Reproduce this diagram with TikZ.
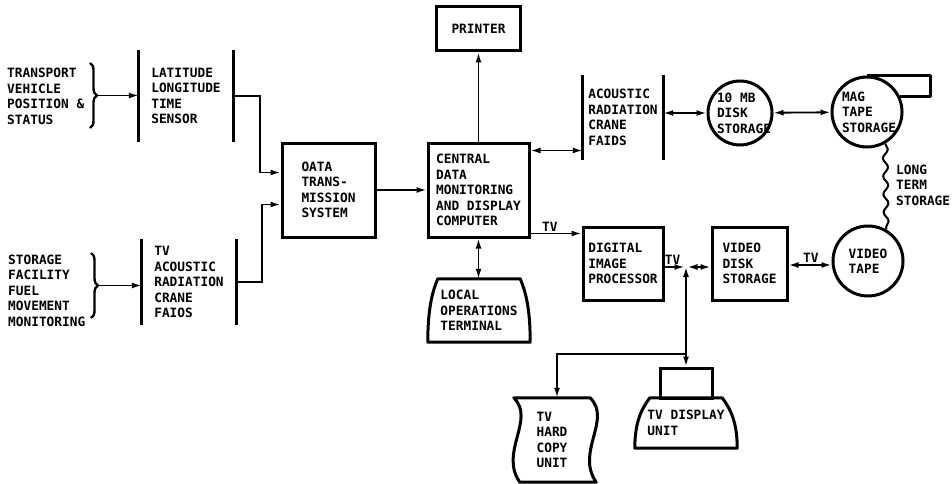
\documentclass[tikz,border=0pt]{standalone}
\usepackage{fontspec}
\newfontfamily\dmono{DejaVu Sans Mono}
\usetikzlibrary{arrows.meta,calc,decorations.pathreplacing,decorations.pathmorphing}
\begin{document}
\begin{tikzpicture}[x=1pt,y=-1pt,
  txt/.style={font=\dmono\bfseries\fontsize{12.8}{15.5}\selectfont, align=left},
  box/.style={txt, draw, line width=3pt, rectangle, inner sep=0pt},
  plain/.style={txt, rectangle, inner sep=0pt},
  ring/.style={draw, line width=3pt, circle, inner sep=0pt},
  bar/.style={line width=3pt},
  wire/.style={line width=1.8pt},
  arr/.style={wire, -{Latex[length=10pt,width=6pt]}},
  dbl/.style={wire, {Latex[length=10pt,width=6pt]}-{Latex[length=10pt,width=6pt]}},
  outline/.style={line width=3pt, line join=round},
  lbl/.style={txt, inner sep=1.5pt},
  bracestyle/.style={decorate, decoration={brace, amplitude=7pt}, line width=2.4pt}
]
\useasboundingbox (0,0) rectangle (952,484);

% left sources
\node[plain, anchor=west] (src1) at (7,96.5) {TRANSPORT\\VEHICLE\\POSITION \&\\STATUS};
\node[plain, anchor=west] (src2) at (8,290.5) {STORAGE\\FACILITY\\FUEL\\MOVEMENT\\MONITORING};

% data stores
\node[plain, minimum width=94pt, minimum height=92pt] (lat) at (186,96) {LATITUDE\\LONGITUDE\\TIME\\SENSOR};
\draw[bar] (lat.north west) -- (lat.south west);
\draw[bar] (lat.north east) -- (lat.south east);
\node[plain, minimum width=94pt, minimum height=86pt] (tvs) at (189,282) {TV\\ACOUSTIC\\RADIATION\\CRANE\\FAIOS};
\draw[bar] (tvs.north west) -- (tvs.south west);
\draw[bar] (tvs.north east) -- (tvs.south east);
\node[plain, minimum width=80pt, minimum height=85pt] (acou) at (623,117.5) {ACOUSTIC\\RADIATION\\CRANE\\FAIDS};
\draw[bar] (acou.north west) -- (acou.south west);
\draw[bar] (acou.north east) -- (acou.south east);

% boxes
\node[box, minimum width=93pt, minimum height=94pt] (oata) at (328.5,190) {OATA\\TRANS-\\MISSION\\SYSTEM};
\node[box, minimum width=101pt, minimum height=94pt] (central) at (478.5,190) {CENTRAL\\DATA\\MONITORING\\AND DISPLAY\\COMPUTER};
\node[box, minimum width=84pt, minimum height=44pt] (printer) at (478.5,29) {PRINTER};
\node[box, minimum width=80pt, minimum height=73pt] (dig) at (623,263.5) {DIGITAL\\IMAGE\\PROCESSOR};
\node[box, minimum width=75pt, minimum height=73pt] (vdisk) at (749.5,263.5) {VIDEO\\DISK\\STORAGE};

% circles
\node[ring, minimum size=64pt, label={[txt, xshift=4pt]center:10 MB\\DISK\\STORAGE}] (disk) at (740,113) {};
\node[ring, minimum size=70pt, label={[txt, xshift=2pt]center:MAG\\TAPE\\STORAGE}] (mag) at (867,112) {};
\draw[outline] (mag.north) -- ++(63,0) |- (mag.25);
\node[ring, minimum size=70pt, label={[txt]center:VIDEO\\TAPE}] (vtape) at (868,261) {};
\node[plain, anchor=west] (lts) at (896,185) {LONG\\TERM\\STORAGE};
\draw[line width=2pt, decorate, decoration={snake, segment length=18pt, amplitude=2.5pt}] (mag.300) -- (vtape.60);

% terminal
\node[plain, minimum width=102pt, minimum height=63pt] (term) at (479,310.5) {LOCAL\\OPERATIONS\\TERMINAL};
\draw[outline] (term.south west) -- (term.south east)
  .. controls ($(term.south east)+(0,-32)$) and ($(term.north east)+(-4,14)$) .. ($(term.north east)+(-10,0)$)
  -- ($(term.north west)+(10,0)$)
  .. controls ($(term.north west)+(4,14)$) and ($(term.south west)+(0,-32)$) .. cycle;

% TV display unit
\node[box, minimum width=52pt, minimum height=30pt] (disp) at (686,383) {};
\node[plain, minimum width=102pt, minimum height=50pt] (dbase) at (686,423) {TV DISPLAY\\UNIT};
\draw[outline] (dbase.south west) -- (dbase.south east)
  .. controls ($(dbase.south east)+(0,-25)$) and ($(dbase.north east)+(-6,12)$) .. ($(dbase.north east)+(-15,0)$)
  -- ($(dbase.north west)+(15,0)$)
  .. controls ($(dbase.north west)+(6,12)$) and ($(dbase.south west)+(0,-25)$) .. cycle;

% TV hard copy unit
\node[plain, minimum width=76pt, minimum height=84pt] (hc) at (552,440) {TV\\HARD\\COPY\\UNIT};
\draw[outline] (hc.north west) -- (hc.north east)
  .. controls ($(hc.north east)+(22,22)$) and ($(hc.south east)+(-15,-30)$) .. ($(hc.south east)+(6,0)$)
  -- ($(hc.south west)+(6,0)$)
  .. controls ($(hc.south west)+(-15,-30)$) and ($(hc.north west)+(22,22)$) .. cycle;

% braces and inputs
\draw[bracestyle] (90,63) -- (90,128);
\coordinate (b1) at (97,95.5);
\draw[arr] (b1) -- (b1 -| lat.west);
\draw[bracestyle] (91,253) -- (91,318);
\coordinate (b2) at (98,285.5);
\draw[arr] (b2) -- (b2 -| tvs.west);

\draw[arr] (lat.east) -- ++(27,0) |- ([yshift=-31pt]oata.north west);
\draw[arr] (tvs.east) -- ++(26,0) |- ([yshift=34pt]oata.south west);
\draw[arr] (oata) -- (central);
\draw[arr] (central) -- (printer);
\coordinate (c1) at ([yshift=-9pt]central.north east);
\draw[dbl] (c1) -- (c1 -| acou.west);
\draw[dbl] (disk.west -| acou.east) -- (disk.west);
\draw[dbl] (disk) -- (mag);
\draw[dbl] (central.south) -- (central.south |- term.north);
\coordinate (c2) at ([yshift=5pt]central.south east);
\draw[arr] (c2) -- node[lbl, above, pos=0.38] (tv1) {TV} (c2 -| dig.west);

\coordinate (j) at (686,267);
\draw[arr] (j -| dig.east) -- node[lbl, above, pos=0.4] (tv2) {TV} ([xshift=-1.5pt]j);
\draw[dbl] ([xshift=1.5pt]j) -- (j -| vdisk.west);
\draw[dbl] (j) -- (disp.north);
\coordinate (k) at (686,354);
\draw[arr] (k) -| ([xshift=5pt]hc.north);
\coordinate (c3) at ([yshift=-1.5pt]vdisk.east);
\draw[dbl] (c3) -- node[lbl, above, pos=0.52] (tv3) {TV} (c3 -| vtape.west);
\end{tikzpicture}
\end{document}
